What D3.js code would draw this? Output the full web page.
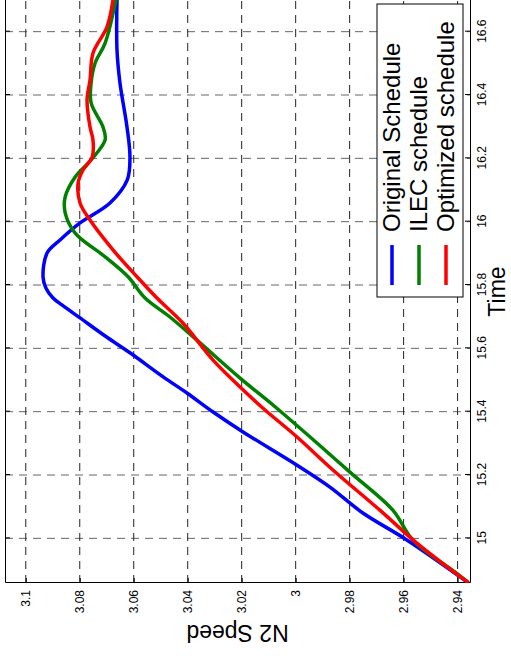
<!DOCTYPE html>
<html>
<head>
<style>
  body { margin: 0; background: #fff; }
  svg text { font-family: "Liberation Sans", Arial, sans-serif; fill: #000; }
  .axis text { font-size: 12px; }
  .grid line { stroke-dasharray: 8,6; }
</style>
<script src="https://cdnjs.cloudflare.com/ajax/libs/d3/7.8.5/d3.min.js"></script>
</head>
<body>
<svg width="511" height="658"></svg>
<script>
// series (time, N2 speed)
var timeOrig  = [14.86, 14.995, 15.080, 15.162, 15.231, 15.336, 15.399, 15.459, 15.510, 15.586, 15.639, 15.696, 15.737, 15.759, 15.790, 15.825, 15.901, 15.942, 15.996, 16.059, 16.132, 16.204, 16.299, 16.438, 16.542, 16.70];
var speedOrig = [2.936, 2.9588, 2.9751, 2.9873, 2.9995, 3.0195, 3.0306, 3.0403, 3.0491, 3.0614, 3.0706, 3.0799, 3.0866, 3.0899, 3.0925, 3.0936, 3.0921, 3.0873, 3.0799, 3.0688, 3.0624, 3.0614, 3.0625, 3.0651, 3.0662, 3.0662];

var timeIlec  = [14.86, 14.889, 14.995, 15.089, 15.209, 15.301, 15.421, 15.506, 15.626, 15.699, 15.759, 15.826, 15.889, 15.964, 16.028, 16.078, 16.141, 16.195, 16.258, 16.299, 16.375, 16.438, 16.501, 16.564, 16.70];
var speedIlec = [2.936, 2.9403, 2.9566, 2.9640, 2.9799, 2.9921, 3.0084, 3.0206, 3.0366, 3.0466, 3.0558, 3.0621, 3.0706, 3.0817, 3.0854, 3.0854, 3.0817, 3.0758, 3.0706, 3.0714, 3.0758, 3.0758, 3.0743, 3.0706, 3.0666];

var timeOpt  = [14.86, 14.985, 15.089, 15.216, 15.320, 15.411, 15.478, 15.563, 15.680, 15.759, 15.826, 15.911, 16.005, 16.059, 16.122, 16.163, 16.204, 16.258, 16.299, 16.384, 16.447, 16.532, 16.615, 16.70];
var speedOpt = [2.936, 2.9551, 2.9688, 2.9862, 2.9995, 3.0121, 3.0206, 3.0306, 3.0418, 3.0514, 3.0588, 3.0677, 3.0762, 3.0799, 3.0806, 3.0788, 3.0754, 3.0751, 3.0762, 3.0773, 3.0762, 3.0751, 3.0699, 3.0677];

var seriesNames = ["Original Schedule", "ILEC schedule", "Optimized schedule"];
var seriesColors = ["#0000ff", "#008000", "#ff0000"];
var timeTicks = [15, 15.2, 15.4, 15.6, 15.8, 16, 16.2, 16.4, 16.6];
var speedTicks = [2.94, 2.96, 2.98, 3, 3.02, 3.04, 3.06, 3.08, 3.1];

var series = [
  d3.zip(timeOrig, speedOrig),
  d3.zip(timeIlec, speedIlec),
  d3.zip(timeOpt, speedOpt)
];

// the whole figure is turned a quarter turn, so draw it flat and rotate the group
var W = 583, H = 465;
var svg = d3.select("svg");
var g = svg.append("g").attr("transform", "translate(5,583) rotate(-90)");

var x = d3.scaleLinear().domain([14.859, 16.70]).range([0, W]);
var y = d3.scaleLinear().domain([2.9354, 3.1077]).range([H, 0]);

g.append("clipPath").attr("id", "clip")
  .append("rect").attr("width", W).attr("height", H);

// grid
g.append("g").attr("class", "grid")
  .selectAll("line").data(timeTicks).enter().append("line")
  .attr("x1", d => x(d)).attr("x2", d => x(d))
  .attr("y1", 0).attr("y2", H)
  .attr("stroke", "#666");
g.append("g").attr("class", "grid")
  .selectAll("line").data(speedTicks).enter().append("line")
  .attr("y1", d => y(d)).attr("y2", d => y(d))
  .attr("x1", 0).attr("x2", W)
  .attr("stroke", "#222");

// axes with inward ticks
var xAxis = g.append("g").attr("class", "axis")
  .attr("transform", "translate(0," + H + ")")
  .call(d3.axisBottom(x).tickValues(timeTicks).tickSizeInner(-5).tickSizeOuter(0).tickPadding(7)
    .tickFormat(d3.format("")));
var yAxis = g.append("g").attr("class", "axis")
  .call(d3.axisLeft(y).tickValues(speedTicks).tickSizeInner(-5).tickSizeOuter(0).tickPadding(7)
    .tickFormat(d3.format("")));
g.append("g").attr("class", "axis")
  .attr("transform", "translate(0,0)")
  .call(d3.axisTop(x).tickValues(timeTicks).tickSizeInner(-5).tickSizeOuter(0).tickFormat(""));
g.selectAll(".axis path.domain").attr("stroke", "#000");

// curves
var line = d3.line()
  .x(d => x(d[0]))
  .y(d => y(d[1]))
  .curve(d3.curveCatmullRom);

g.append("g").attr("clip-path", "url(#clip)")
  .selectAll("path").data(series).enter().append("path")
  .attr("d", line)
  .attr("fill", "none")
  .attr("stroke", (d, i) => seriesColors[i])
  .attr("stroke-width", 3.5)
  .attr("stroke-linejoin", "round");

// axis titles
g.append("text")
  .attr("x", W / 2).attr("y", H + 35)
  .attr("text-anchor", "middle")
  .style("font-size", "23px")
  .text("Time");
g.append("text")
  .attr("transform", "translate(-42," + (H / 2) + ") rotate(-90)")
  .attr("text-anchor", "middle")
  .style("font-size", "23px")
  .text("N2 Speed");

// legend, lower right of the flat figure
var lg = g.append("g").attr("transform", "translate(286,372)");
lg.append("rect")
  .attr("width", 293).attr("height", 86)
  .attr("fill", "#fff").attr("stroke", "#000");
var items = lg.selectAll(".item").data(seriesNames).enter().append("g")
  .attr("transform", (d, i) => "translate(0," + (15 + i * 27) + ")");
items.append("line")
  .attr("x1", 12).attr("x2", 52)
  .attr("stroke", (d, i) => seriesColors[i])
  .attr("stroke-width", 3.5);
items.append("text")
  .attr("x", 65).attr("y", 8)
  .style("font-size", "24px")
  .text(d => d);
</script>
</body>
</html>
